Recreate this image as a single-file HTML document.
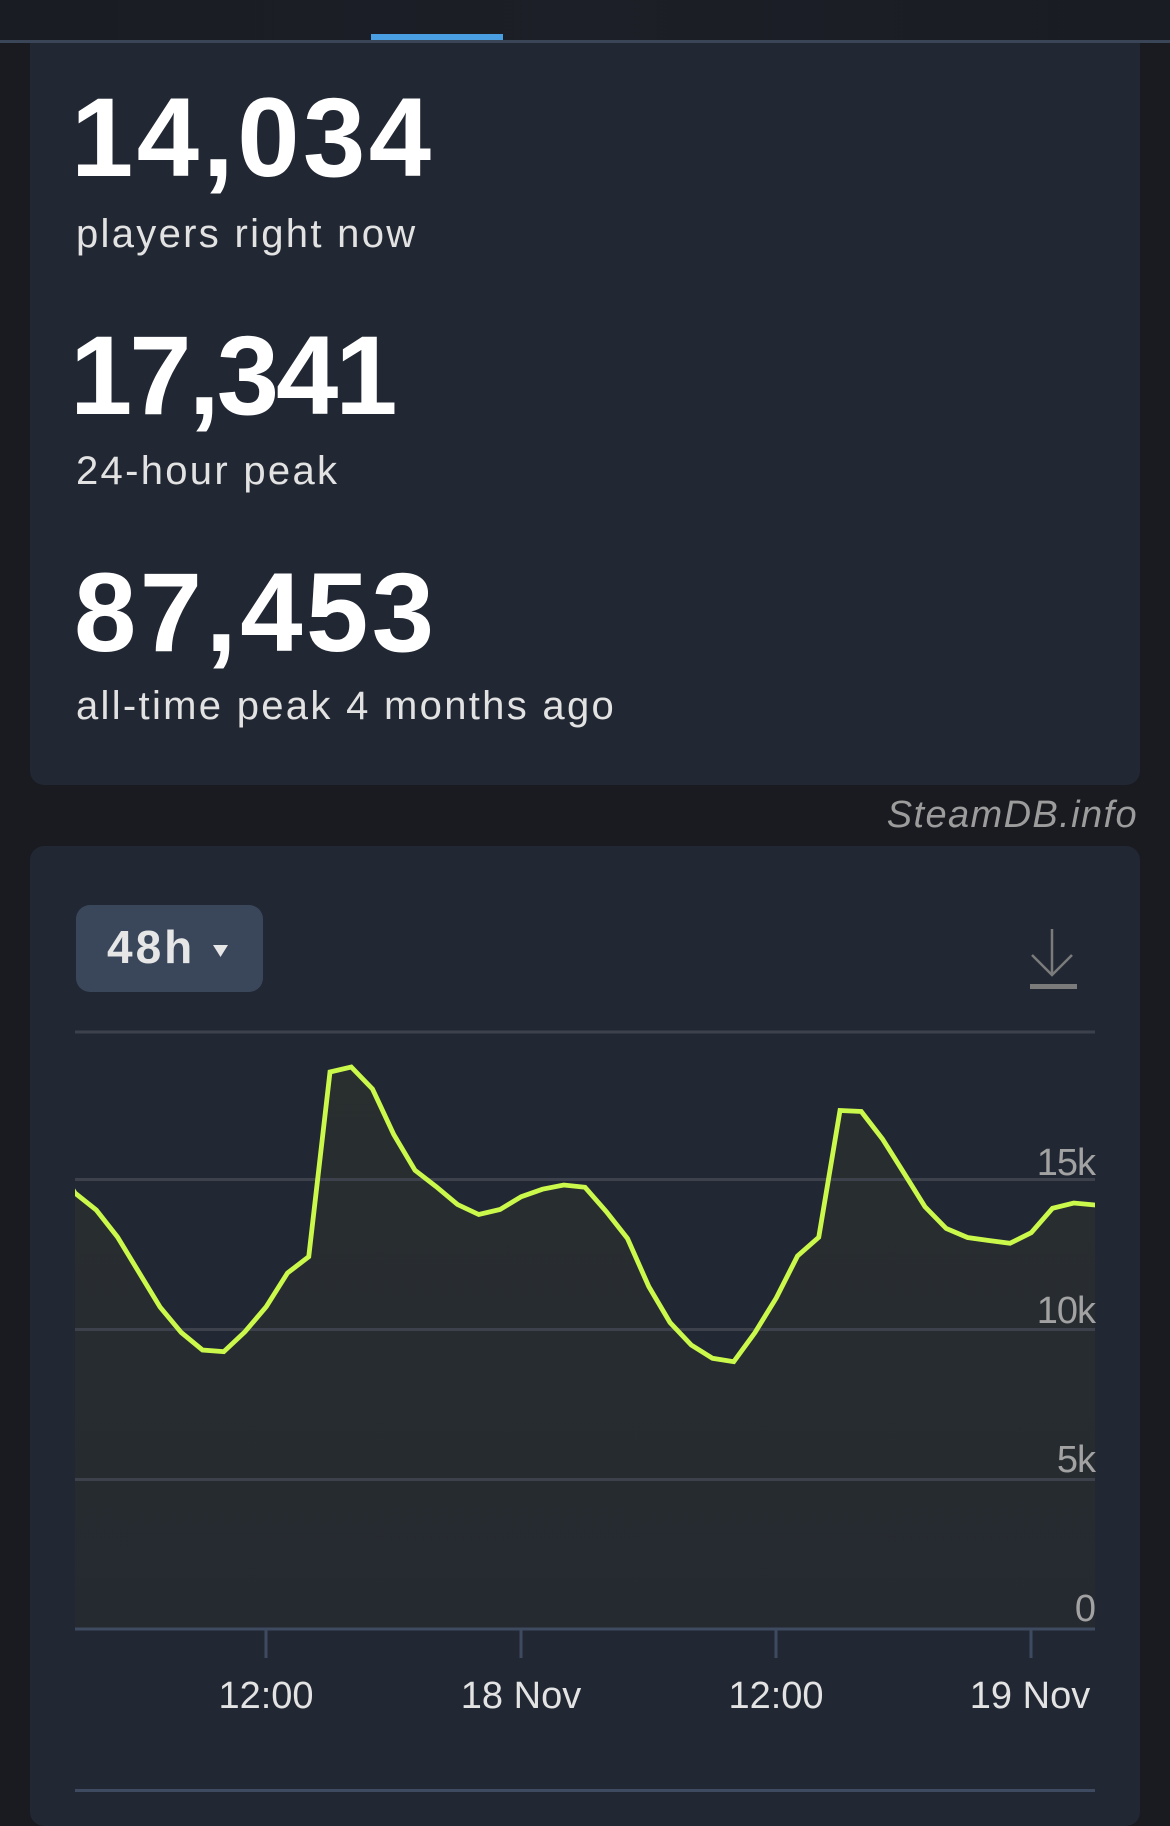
<!DOCTYPE html>
<html>
<head>
<meta charset="utf-8">
<style>
  html, body { margin:0; padding:0; }
  body { width:1170px; height:1792px; background:#1a1b20; position:relative; overflow:hidden; font-family:"Liberation Sans", sans-serif; }
  .hdr { position:absolute; left:0; top:0; width:1170px; height:40px; background:linear-gradient(90deg,#1a1c23,#1c1f27 50%,#1a1c23); }
  .hdrline { position:absolute; left:0; top:40px; width:1170px; height:3px; background:#3b4558; }
  .tab { position:absolute; left:371px; top:34px; width:132px; height:6px; background:#4a9fe2; }
  .card { position:absolute; left:30px; width:1110px; background:#212733; border-radius:14px; }
  .big { position:absolute; font-weight:bold; font-size:112px; line-height:112px; color:#ffffff; white-space:nowrap; }
  .lbl { position:absolute; font-size:40px; line-height:40px; color:#e2e2e2; letter-spacing:2.3px; white-space:nowrap; }
  .brand { position:absolute; right:32px; top:796px; font-size:38px; line-height:38px; font-style:italic; color:#9c9c9c; letter-spacing:1.4px; white-space:nowrap; }
  .btn { position:absolute; left:76px; top:905px; width:187px; height:87px; background:#3a475b; border-radius:14px; }
  .btntxt { position:absolute; left:107px; top:924px; font-size:46px; line-height:46px; font-weight:bold; color:#e6e6e6; letter-spacing:3px; }
</style>
</head>
<body>
  <div class="card" style="top:20px; height:765px;"></div>
  <div class="hdr"></div>
  <div class="hdrline"></div>
  <div class="tab"></div>

  <div class="big" style="left:71px; top:82px; letter-spacing:3.5px;">14,034</div>
  <div class="lbl" style="left:76px; top:214px;">players right now</div>
  <div class="big" style="left:70px; top:320px; letter-spacing:-3px;">17,341</div>
  <div class="lbl" style="left:76px; top:451px;">24-hour peak</div>
  <div class="big" style="left:74px; top:557px; letter-spacing:3.5px;">87,453</div>
  <div class="lbl" style="left:76px; top:686px;">all-time peak 4 months ago</div>

  <div class="brand">SteamDB.info</div>

  <div class="card" style="top:846px; height:980px;"></div>
  <div class="btn"></div>
  <div class="btntxt">48h</div>

  <svg width="1170" height="1792" viewBox="0 0 1170 1792" style="position:absolute;left:0;top:0;" xmlns="http://www.w3.org/2000/svg">
    <defs>
      <clipPath id="plot"><rect x="75" y="1000" width="1020" height="640"/></clipPath>
      <linearGradient id="fillg" x1="0" y1="1060" x2="0" y2="1629" gradientUnits="userSpaceOnUse">
        <stop offset="0" stop-color="#292e2f"/>
        <stop offset="1" stop-color="#252a31"/>
      </linearGradient>
    </defs>
    <polygon points="213,945 228,945 220.5,957" fill="#e6e6e6"/>
    <g stroke="#7b7b7b" fill="none" stroke-width="2.5">
      <line x1="1052" y1="929" x2="1052" y2="975"/>
      <polyline points="1032,955 1052,975 1072,955"/>
    </g>
    <rect x="1030" y="984" width="47" height="5" fill="#7b7b7b"/>

    <polygon clip-path="url(#plot)" fill="url(#fillg)" points="75,1629 75,1193 96.25,1210 117.5,1237 138.75,1272 160,1307 181.25,1332.5 202.5,1350 223.75,1351.7 245,1331.7 266.25,1306.7 287.5,1273 308.75,1256.7 330,1072 351.25,1067 372.5,1089 393.75,1134.5 415,1170.3 436.25,1186.7 457.5,1204.5 478.75,1214.5 500,1209.5 521.25,1196.7 542.5,1189.2 563.75,1185 585,1187.3 606.25,1211.5 627.5,1238.5 648.75,1286.5 670,1322.5 691.25,1345 712.5,1358.3 733.75,1361.7 755,1332.5 776.25,1298 797.5,1256 818.75,1237.3 840,1110.5 861.25,1111.5 882.5,1139 903.75,1172.7 925,1206.8 946.25,1228.5 967.5,1237.5 988.75,1240.5 1010,1243.3 1031.25,1232.7 1052.5,1208.3 1073.75,1203 1095,1205 1095,1629"/>

    <g fill="#3c414c">
      <rect x="75" y="1030.5" width="1020" height="3"/>
      <rect x="75" y="1178" width="1020" height="3"/>
      <rect x="75" y="1328" width="1020" height="3"/>
      <rect x="75" y="1478" width="1020" height="3"/>
    </g>
    <g fill="#3e4a5f">
      <rect x="75" y="1627.5" width="1020" height="3"/>
      <rect x="264.5" y="1629" width="3" height="29"/>
      <rect x="519.5" y="1629" width="3" height="29"/>
      <rect x="774.5" y="1629" width="3" height="29"/>
      <rect x="1029.5" y="1629" width="3" height="29"/>
      <rect x="75" y="1789" width="1020" height="3"/>
    </g>

    <polyline clip-path="url(#plot)" fill="none" stroke="#cbf94b" stroke-width="4.8" stroke-linejoin="miter" stroke-miterlimit="3"
      points="72,1188 75,1193 96.25,1210 117.5,1237 138.75,1272 160,1307 181.25,1332.5 202.5,1350 223.75,1351.7 245,1331.7 266.25,1306.7 287.5,1273 308.75,1256.7 330,1072 351.25,1067 372.5,1089 393.75,1134.5 415,1170.3 436.25,1186.7 457.5,1204.5 478.75,1214.5 500,1209.5 521.25,1196.7 542.5,1189.2 563.75,1185 585,1187.3 606.25,1211.5 627.5,1238.5 648.75,1286.5 670,1322.5 691.25,1345 712.5,1358.3 733.75,1361.7 755,1332.5 776.25,1298 797.5,1256 818.75,1237.3 840,1110.5 861.25,1111.5 882.5,1139 903.75,1172.7 925,1206.8 946.25,1228.5 967.5,1237.5 988.75,1240.5 1010,1243.3 1031.25,1232.7 1052.5,1208.3 1073.75,1203 1095,1205 1098,1205"/>

    <g font-family="Liberation Sans, sans-serif" font-size="38" fill="#a2a2a2" text-anchor="end" letter-spacing="-1">
      <text x="1095" y="1175">15k</text>
      <text x="1095" y="1323">10k</text>
      <text x="1095" y="1472">5k</text>
      <text x="1095" y="1621">0</text>
    </g>
    <g font-family="Liberation Sans, sans-serif" font-size="38" fill="#e3e3e3" text-anchor="middle">
      <text x="266" y="1708">12:00</text>
      <text x="521" y="1708">18 Nov</text>
      <text x="776" y="1708">12:00</text>
      <text x="1030" y="1708">19 Nov</text>
    </g>
  </svg>
</body>
</html>
